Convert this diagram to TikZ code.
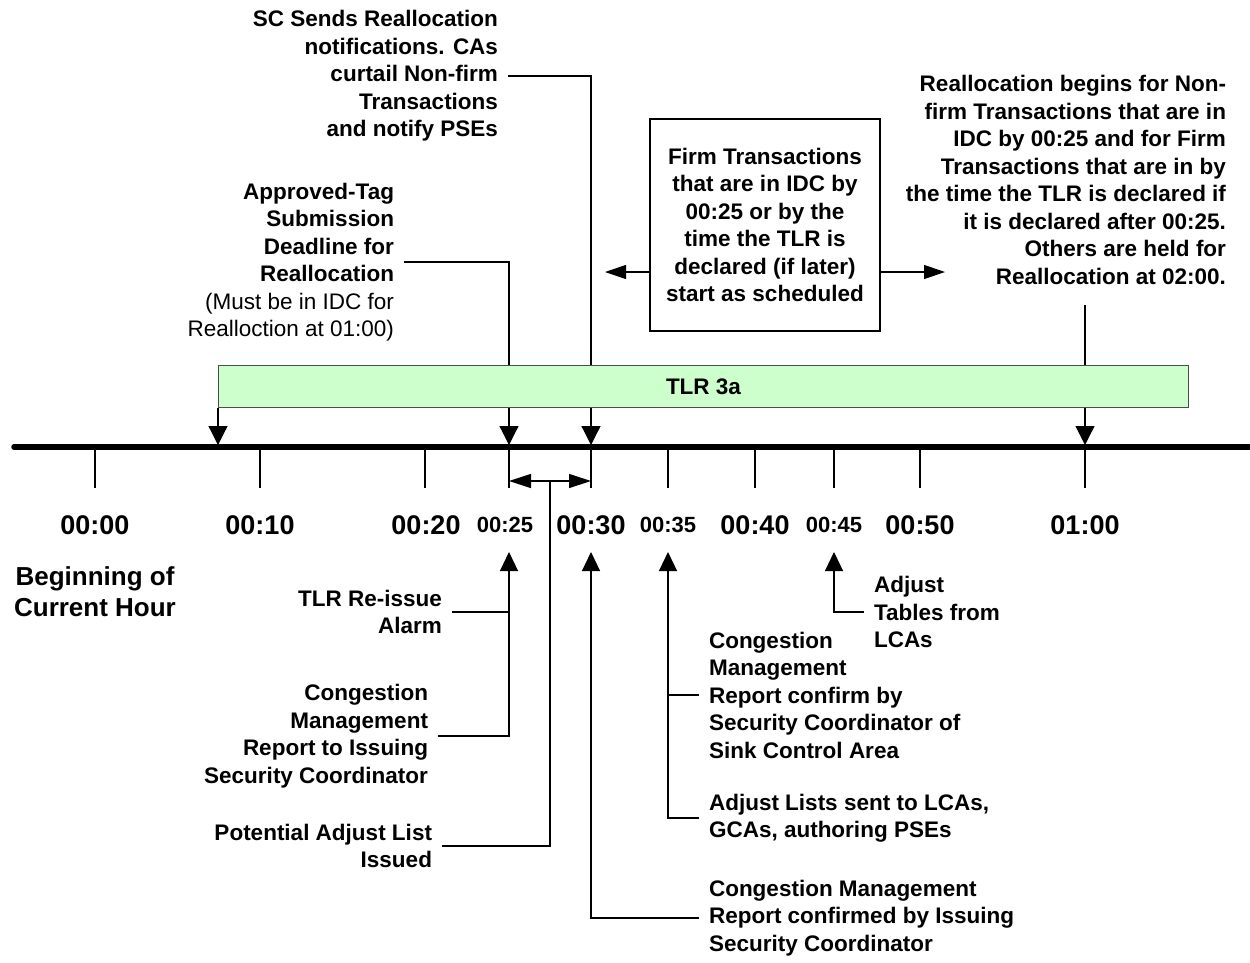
\documentclass[tikz,border=0pt]{standalone}
\usepackage{fontspec}
\setmainfont{Liberation Sans}
\usetikzlibrary{arrows.meta}
\definecolor{tlrgreen}{HTML}{CCFFCC}
\begin{document}
\begin{tikzpicture}[x=1pt,y=-1pt,
  lbl/.style={font=\fontsize{22.5}{27.5}\selectfont\bfseries, inner sep=0pt, outer xsep=10pt},
  lblr/.style={lbl, align=right, anchor=east},
  lbll/.style={lbl, align=left, anchor=west},
  conn/.style={line width=1.2pt},
  arr/.style={conn, -{Triangle[length=19pt,width=19pt]}},
  uarr/.style={conn, -{Triangle[length=19pt,width=18pt]}},
  harr/.style={conn, -{Triangle[length=21pt,width=14pt]}},
  darr/.style={conn, {Triangle[length=22pt,width=14pt]}-{Triangle[length=22pt,width=14pt]}},
  big/.style={font=\fontsize{27}{30}\selectfont\bfseries, inner sep=0pt},
  small/.style={font=\fontsize{22}{24}\selectfont\bfseries, inner sep=0pt},
]
\useasboundingbox (0,0) rectangle (1250,962);

% timeline
\coordinate (tl0) at (14,447);
\coordinate (tl1) at (1250,447);
\draw[line width=5.5pt, line cap=round] (tl0) -- (tl1);
\foreach \x in {95,260,425,509,591,668,755,834,920,1085}
  \draw[conn] (\x,447) -- (\x,488);

% timeline coordinates
\coordinate (t07) at (218,445);
\coordinate (t25) at (509,445);
\coordinate (t30) at (591,445);
\coordinate (t60) at (1085,445);
\coordinate (c60) at (1085,305);
\coordinate (u25) at (509,552);
\coordinate (u30) at (591,552);
\coordinate (u35) at (668,552);
\coordinate (u45) at (834,552);
\coordinate (d25) at (509,481);
\coordinate (d30) at (591,481);
\coordinate (dmid) at (550,481);
\coordinate (la) at (605,272);
\coordinate (ra) at (945,272);

% time labels
\node[big] (l00) at (95,525) {00:00};
\node[big] (l10) at (260,525) {00:10};
\node[big] (l20) at (426,525) {00:20};
\node[small] (l25) at (505,525) {00:25};
\node[big] (l30) at (591,525) {00:30};
\node[small] (l35) at (668,525) {00:35};
\node[big] (l40) at (755,525) {00:40};
\node[small] (l45) at (834,525) {00:45};
\node[big] (l50) at (920,525) {00:50};
\node[big] (l60) at (1085,525) {01:00};

\node[font=\fontsize{26}{31}\selectfont\bfseries, inner sep=0pt, align=center] (begin) at (95,592) {Beginning of\\Current Hour};

% top labels
\node[lblr] (sc) at (508,76) {SC Sends Reallocation\\notifications. CAs\\curtail Non-firm\\Transactions\\and notify PSEs};
\node[lblr] (atag) at (404,262) {Approved-Tag\\Submission\\Deadline for\\Reallocation\\\mdseries (Must be in IDC for\\\mdseries Realloction at 01:00)};
\node[lblr, outer xsep=0pt] (realloc) at (1226,180) {Reallocation begins for Non-\\firm Transactions that are in\\IDC by 00:25 and for Firm\\Transactions that are in by\\the time the TLR is declared if\\it is declared after 00:25.\\Others are held for\\Reallocation at 02:00.};
\node[lbl, outer sep=0pt, draw, line width=1.2pt, align=center, minimum width=230pt, minimum height=212pt] (firm) at (765,225) {Firm Transactions\\that are in IDC by\\00:25 or by the\\time the TLR is\\declared (if later)\\start as scheduled};

% connectors from top
\draw[arr] (sc.east) -| (t30);
\draw[arr] (atag.east) -| (t25);
\draw[arr] (c60) -- (t60);
\draw[harr] (firm.west |- la) -- (la);
\draw[harr] (firm.east |- ra) -- (ra);

% TLR bar
\node[draw=black!70, line width=1pt, fill=tlrgreen, anchor=north west, minimum width=970pt, minimum height=42pt, inner sep=0pt, font=\fontsize{22.5}{27}\selectfont\bfseries] (tlr) at (218,365) {TLR 3a};
\draw[arr] (tlr.south west) -- (t07);

% double arrow
\draw[darr] (d25) -- (d30);

% bottom labels
\node[lblr] (reissue) at (452,612) {TLR Re-issue\\Alarm};
\node[lblr] (cmr) at (438,736) {Congestion\\Management\\Report to Issuing\\Security Coordinator};
\node[lblr] (pal) at (442,846) {Potential Adjust List\\Issued};
\node[lbll] (ccm) at (699,918) {Congestion Management\\Report confirmed by Issuing\\Security Coordinator};
\node[lbll] (cmc) at (699,695) {Congestion\\Management\\Report confirm by\\Security Coordinator of\\Sink Control Area};
\node[lbll] (als) at (699,818) {Adjust Lists sent to LCAs,\\GCAs, authoring PSEs};
\node[lbll] (adj) at (864,612) {Adjust\\Tables from\\LCAs};

\draw[uarr] (cmr.east) -| (u25);
\draw[conn] (reissue.east) -- (reissue.east -| u25);
\draw[conn] (pal.east) -| (dmid);
\draw[uarr] (ccm.west) -| (u30);
\draw[uarr] (als.west) -| (u35);
\draw[conn] (cmc.west) -- (cmc.west -| u35);
\draw[uarr] (adj.west) -| (u45);
\end{tikzpicture}
\end{document}
